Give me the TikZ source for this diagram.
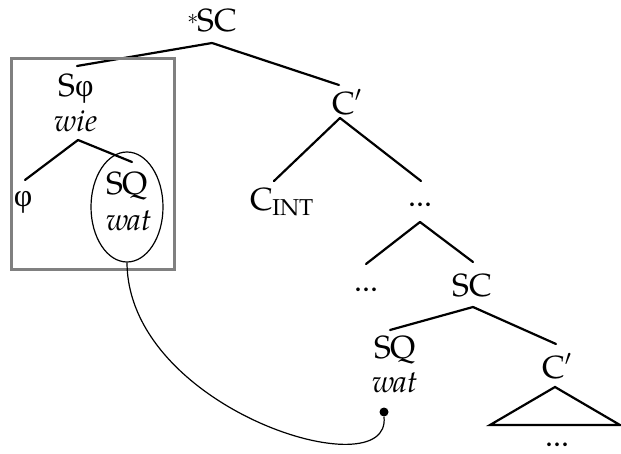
\documentclass[tikz,border=0pt]{standalone}
\usepackage{fontspec}
\setmainfont{TeX Gyre Pagella}
\newfontfamily\grk{Liberation Serif}
\usetikzlibrary{shapes.geometric}
\tikzset{
  lbl/.style={inner sep=1pt, font=\fontsize{16}{18}\selectfont},
  ital/.style={lbl, font=\fontsize{15.5}{17}\selectfont\itshape},
  branch/.style={line width=1.1pt, line cap=round},
}
\begin{document}
\begin{tikzpicture}[x=0.5pt,y=-0.5pt]
\useasboundingbox (0,0) rectangle (621,454);
% labels
\node[lbl] (root) at (212,20) {\raisebox{3.5pt}{\fontsize{11}{11}\selectfont$\ast$}\kern-0.5pt SC};
\node[lbl] (sphi) at (76,89) {S{\grk φ}};
\node[ital] (wie) at (76,121) {wie};
\node[lbl] (phi) at (23,202) {{\grk φ}};
\node[lbl] (sq1) at (127,186) {SQ};
\node[ital] (wat1) at (129,221) {wat};
\node[lbl] (cbar1) at (347,102) {C$'$};
\node[lbl] (cint) at (282,202) {C\kern-0.5pt\raisebox{-2.5pt}{\fontsize{11.5}{12}\selectfont INT}};
\node[lbl] (dots1) at (420,205) {...};
\node[lbl] (dots2) at (366,290) {...};
\node[lbl] (sc) at (472,285) {SC};
\node[lbl] (sq2) at (395,350) {SQ};
\node[ital] (wat2) at (395,383) {wat};
\node[lbl] (cbar2) at (557,366) {C$'$};
\node[lbl] (dots3) at (557,445) {...};
% tree lines
\coordinate (rootb) at (212,43);
\draw[branch] (rootb) -- (77,66);
\draw[branch] (rootb) -- (339,85);
\coordinate (wieb) at (78,140);
\draw[branch] (wieb) -- (25,180);
\draw[branch] (wieb) -- (132,162);
\coordinate (cbarb) at (340,118);
\draw[branch] (cbarb) -- (274,181);
\draw[branch] (cbarb) -- (421,181);
\coordinate (dotsb) at (420,222);
\draw[branch] (dotsb) -- (366,264);
\draw[branch] (dotsb) -- (473,262);
\coordinate (scb) at (473,307);
\draw[branch] (scb) -- (390,330);
\draw[branch] (scb) -- (556,344);
% triangle
\coordinate (tapex) at (555,387);
\draw[branch, line join=miter] (tapex) -- (490,425) -- (620,425) -- cycle;
% box
\draw[line width=1.5pt, draw=gray] (11,59) rectangle (174,270);
% ellipse
\node[ellipse, draw, line width=0.6pt, minimum width=36pt, minimum height=55pt, inner sep=0pt] (ell) at (127,207) {};
% dot and curve
\node[circle, fill, inner sep=0pt, minimum size=4.5pt] (dot) at (384,412) {};
\draw[line width=0.6pt] (ell.south) .. controls (128,410) and (392,490) .. (dot.south);
\end{tikzpicture}
\end{document}
